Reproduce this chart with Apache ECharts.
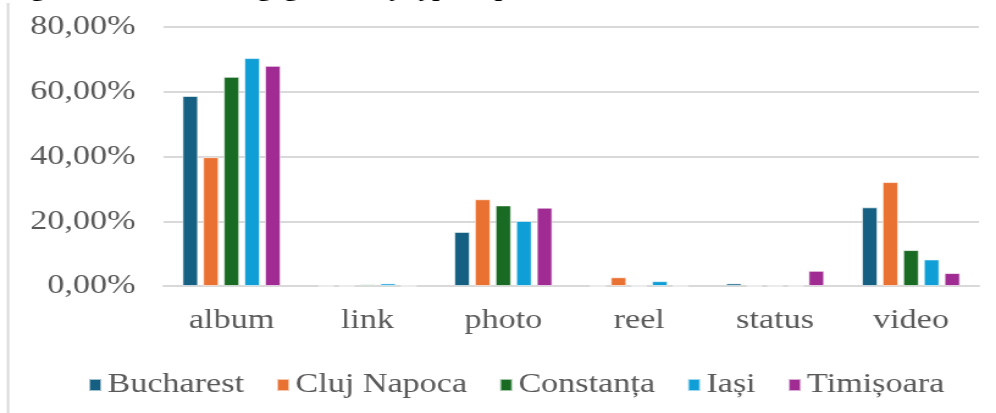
<!DOCTYPE html>
<html>
<head>
<meta charset="utf-8">
<script src="https://cdn.jsdelivr.net/npm/echarts@6/dist/echarts.min.js"></script>
<style>
  html, body { margin: 0; padding: 0; background: #fff; overflow: hidden; }
  /* the source picture is stretched sideways, so the chart is drawn narrow and widened */
  #chart { width: 816px; height: 413px; transform: scaleX(1.2206); transform-origin: 0 0; }
</style>
</head>
<body>
<div id="chart"></div>
<script>
// post types on the x axis
const postTypes = ["album", "link", "photo", "reel", "status", "video"];
// share of engagement per city, in percent
const bucharest = [58.7, 0, 16.7, 0, 0.8, 24.3];
const clujNapoca = [39.8, 0, 26.8, 2.7, 0, 32.1];
const constanta = [64.6, 0.5, 24.9, 0, 0, 11.1];
const iasi = [70.4, 0.8, 20.1, 1.5, 0, 8.2];
const timisoara = [68.0, 0, 24.2, 0, 4.7, 4.0];
const cityNames = ["Bucharest", "Cluj Napoca", "Constanța", "Iași", "Timișoara"];
const cityColors = ["#156082", "#E97132", "#196B24", "#0F9ED5", "#A02B93"];

const serif = "'Liberation Serif', 'DejaVu Serif', serif";
const cityValues = [bucharest, clujNapoca, constanta, iasi, timisoara];

const chart = echarts.init(document.getElementById("chart"));

const option = {
  animation: false,
  color: cityColors,
  grid: { left: 134, right: 14, top: 27, bottom: 127 },
  legend: {
    left: 67,
    top: 366,
    itemWidth: 10,
    itemHeight: 12,
    itemGap: 26,
    icon: "rect",
    textStyle: { fontFamily: serif, fontSize: 28, color: "#595959" },
    data: cityNames
  },
  graphic: [
    {
      type: "line",
      shape: { x1: 6.6, y1: 3, x2: 6.6, y2: 413 },
      style: { stroke: "#d9d9d9", lineWidth: 2 }
    },
    {
      // caption cut off at the top edge, only the descenders show
      type: "text",
      left: 6,
      top: -21,
      style: {
        text: "Figure 4. Audience engagement by type of post",
        font: "bold 22px " + serif,
        fill: "#000"
      }
    }
  ],
  xAxis: {
    type: "category",
    data: postTypes,
    axisLine: { lineStyle: { color: "#d9d9d9", width: 2 } },
    axisTick: { show: false },
    axisLabel: { fontFamily: serif, fontSize: 28, color: "#595959", margin: 21 }
  },
  yAxis: {
    type: "value",
    min: 0,
    max: 80,
    interval: 20,
    axisLine: { show: false },
    axisTick: { show: false },
    splitLine: { lineStyle: { color: "#d9d9d9", width: 2 } },
    axisLabel: {
      fontFamily: serif,
      fontSize: 28,
      color: "#595959",
      margin: 23,
      formatter: v => v.toFixed(2).replace(".", ",") + "%"
    }
  },
  series: cityNames.map((name, i) => ({
    name: name,
    type: "bar",
    data: cityValues[i],
    barWidth: 13,
    barGap: "30%",
    itemStyle: { borderColor: "rgba(255,255,255,0.6)", borderWidth: 1 }
  }))
};

chart.setOption(option);
</script>
</body>
</html>
